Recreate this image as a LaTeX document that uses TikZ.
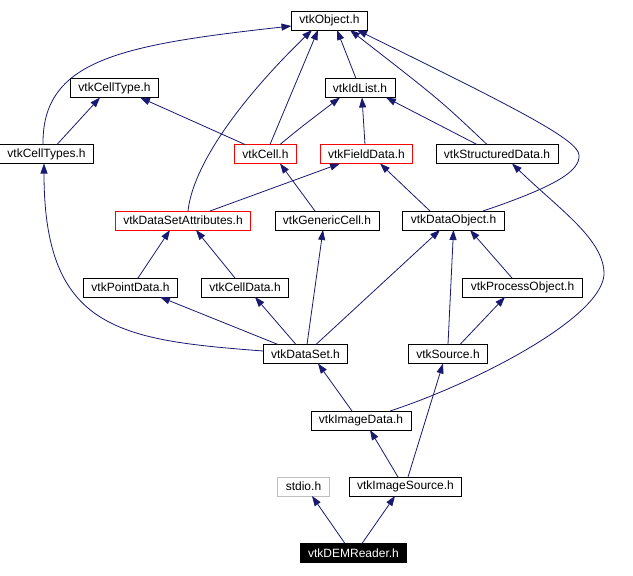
\documentclass[tikz,border=0pt]{standalone}
\usepackage{fontspec}
\setmainfont{Liberation Sans}
\definecolor{depnavy}{RGB}{25, 25, 112}
\definecolor{incred}{RGB}{255, 0, 0}
\definecolor{sysgray}{RGB}{191, 191, 191}
\usepackage{tikz}
\usetikzlibrary{arrows.meta, positioning, calc}

\tikzset{
  hdr/.style={draw=black, fill=white, line width=0.9pt, inner xsep=8pt, inner ysep=0pt,
    minimum height=19pt, outer sep=0pt, font=\fontsize{12}{14}\selectfont},
  hdrred/.style={hdr, draw=incred},
  hdrgray/.style={hdr, draw=sysgray},
  hdrmain/.style={hdr, fill=black, text=white},
  dep/.style={draw=depnavy, line width=0.8pt, -{Triangle[length=10pt, width=7pt]}}
}

\begin{document}
\begin{tikzpicture}[x=1pt, y=-1pt]
  \useasboundingbox (0,0) rectangle (633,576);

  % header boxes
  \node[hdr] (obj) at (329.5,20.5) {vtkObject.h};
  \node[hdr] (cellType) at (114.5,88) {vtkCellType.h};
  \node[hdr] (idList) at (360,88) {vtkIdList.h};
  \node[hdr] (cellTypes) at (46.5,154) {vtkCellTypes.h};
  \node[hdrred] (cell) at (265.5,154) {vtkCell.h};
  \node[hdrred] (fieldData) at (366.5,154) {vtkFieldData.h};
  \node[hdr] (structData) at (497,154) {vtkStructuredData.h};
  \node[hdrred] (dsAttr) at (183,220.5) {vtkDataSetAttributes.h};
  \node[hdr] (genCell) at (327,220.5) {vtkGenericCell.h};
  \node[hdr] (dataObj) at (453.5,220.5) {vtkDataObject.h};
  \node[hdr] (pointData) at (130.5,287.5) {vtkPointData.h};
  \node[hdr] (cellData) at (245,287.5) {vtkCellData.h};
  \node[hdr] (procObj) at (522.5,287.5) {vtkProcessObject.h};
  \node[hdr] (dataSet) at (305.5,354) {vtkDataSet.h};
  \node[hdr] (source) at (448,354) {vtkSource.h};
  \node[hdr] (imageData) at (361,420.5) {vtkImageData.h};
  \node[hdrgray] (stdio) at (303.5,486.5) {stdio.h};
  \node[hdr] (imageSrc) at (405.5,486.5) {vtkImageSource.h};
  \node[hdrmain] (demReader) at (353.5,553) {vtkDEMReader.h};

  % include edges
  \draw[dep] ([xshift=-3.5pt]cellTypes.north) .. controls (42,60) and (120,45) .. ([yshift=-5.5pt]obj.west);
  \draw[dep] ([xshift=10.5pt]cellTypes.north) -- ([xshift=-14.5pt]cellType.south);
  \draw[dep] ([xshift=-20.5pt]cell.north) -- ([xshift=25.5pt]cellType.south);
  \draw[dep] ([xshift=4.5pt]cell.north) -- ([xshift=-11.5pt]obj.south);
  \draw[dep] ([xshift=14.5pt]cell.north) .. controls (300,128) .. ([xshift=-20pt]idList.south);
  \draw[dep] ([xshift=5pt]dsAttr.north) .. controls (193,165) and (240,100) .. ([xshift=-17.5pt]obj.south);
  \draw[dep] ([xshift=27pt]dsAttr.north) -- ([xshift=-26.5pt]fieldData.south);
  \draw[dep] ([xshift=-4pt]idList.north) -- ([xshift=7.5pt]obj.south);
  \draw[dep] ([xshift=-1.5pt]fieldData.north) -- ([xshift=2pt]idList.south);
  \draw[dep] ([xshift=-10pt]structData.north) .. controls (440,100) .. ([xshift=20.5pt]obj.south);
  \draw[dep] ([xshift=-20pt]structData.north) -- ([xshift=26pt]idList.south);
  \draw[dep] ([xshift=29.5pt]dataObj.north) .. controls (560,185) and (580,170) .. (579,155)
    .. controls (578,140) and (520,110) .. ([xshift=27.5pt]obj.south);
  \draw[dep] ([xshift=-23.5pt]dataObj.north) -- ([xshift=13.5pt]fieldData.south);
  \draw[dep] ([xshift=-12pt]genCell.north) -- ([xshift=14.5pt]cell.south);
  \draw[dep] ([xshift=7.5pt]pointData.north) -- ([xshift=-13pt]dsAttr.south);
  \draw[dep] ([xshift=-10pt]cellData.north) -- ([xshift=13pt]dsAttr.south);
  \draw[dep] ([xshift=-10.5pt]procObj.north) -- ([xshift=16.5pt]dataObj.south);
  \draw[dep] ([yshift=3pt]dataSet.west) .. controls (120,340) and (44,330) .. ([xshift=-2.5pt]cellTypes.south);
  \draw[dep] ([xshift=-27.5pt]dataSet.north) -- ([xshift=29.5pt]pointData.south);
  \draw[dep] ([xshift=-9.5pt]dataSet.north) -- ([xshift=10pt]cellData.south);
  \draw[dep] ([xshift=1.5pt]dataSet.north) -- ([xshift=-4pt]genCell.south);
  \draw[dep] ([xshift=10.5pt]dataSet.north) -- ([xshift=-13.5pt]dataObj.south);
  \draw[dep] (source.north) -- (dataObj.south);
  \draw[dep] ([xshift=12pt]source.north) -- ([xshift=-17.5pt]procObj.south);
  \draw[dep] ([xshift=-9pt]imageData.north) -- ([xshift=12.5pt]dataSet.south);
  \draw[dep] ([xshift=29pt]imageData.north) .. controls (470,385) and (600,320) .. (604,275)
    .. controls (605,240) and (560,210) .. ([xshift=15pt]structData.south);
  \draw[dep] ([xshift=-7.5pt]imageSrc.north) -- ([xshift=9pt]imageData.south);
  \draw[dep] ([xshift=2.5pt]imageSrc.north) -- ([xshift=-5pt]source.south);
  \draw[dep] ([xshift=-8.5pt]demReader.north) -- ([xshift=8.5pt]stdio.south);
  \draw[dep] ([xshift=8.5pt]demReader.north) -- ([xshift=-10.5pt]imageSrc.south);
\end{tikzpicture}
\end{document}
